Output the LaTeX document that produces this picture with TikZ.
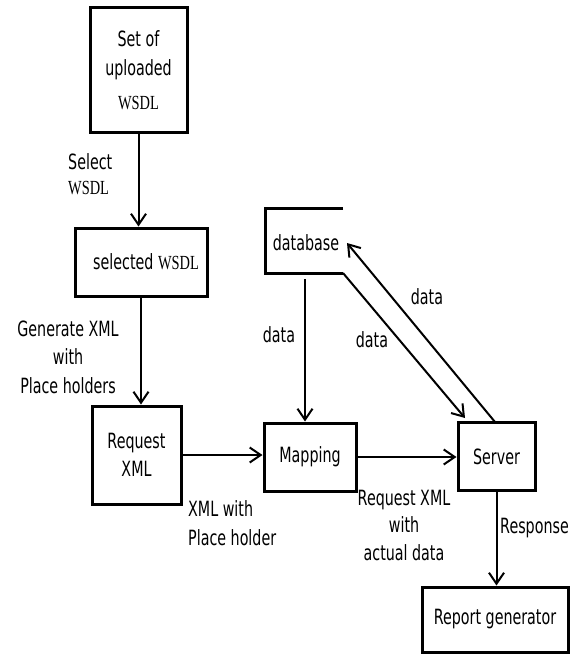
\documentclass[tikz,border=0pt]{standalone}
\usepackage{fontspec}
\setmainfont{DejaVu Sans}[FakeStretch=0.68]
\newfontfamily\wsdlfont{Liberation Serif}[FakeStretch=0.72]
\newcommand\lblfont{\fontsize{21}{28.5}\selectfont}
\newcommand\wsdltext{{\wsdlfont\fontsize{20}{28.5}\selectfont WSDL}}
\usetikzlibrary{arrows.meta}
\begin{document}
\begin{tikzpicture}[x=1pt,y=-1pt,
  box/.style={draw, line width=3pt, inner sep=0pt, align=center, font=\lblfont},
  lbl/.style={inner sep=0pt, font=\lblfont},
  arr/.style={line width=2pt, -{Straight Barb[length=11pt,width=15pt]}},
]
\path[use as bounding box] (0,0) rectangle (571,655);

% boxes
\node[box, minimum width=97pt, minimum height=125pt] (up) at (138.5,70.5) {Set of\\uploaded\\[6pt]\wsdltext};
\node[box, minimum width=132pt, minimum height=68pt] (sel) at (141,262) {\hspace*{10pt}selected\ \wsdltext};
\node[box, minimum width=89pt, minimum height=98pt] (req) at (136.5,455) {Request\\XML};
\node[box, minimum width=92pt, minimum height=68pt] (map) at (310,457) {Mapping};
\node[box, minimum width=77pt, minimum height=68pt] (srv) at (496.5,456.5) {Server};
\node[box, minimum width=146pt, minimum height=65pt] (rep) at (495,619.5) {Report generator};

% database (open store)
\node[lbl] (db) at (306,243) {database};
\coordinate (dbtr) at (343,208);
\coordinate (dbtl) at (265,208);
\coordinate (dbbl) at (265,273);
\coordinate (dbbr) at (343,273);
\draw[line width=3pt] (dbtr) -- (dbtl) -- (dbbl) -- (dbbr);

% connectors
\draw[arr] (up.south) -- (up.south |- sel.north);
\draw[arr] (sel.south) -- (sel.south |- req.north);
\draw[arr] (req.east) -- (req.east -| map.west);
\draw[arr] (map.east) -- (map.east -| srv.west);
\draw[arr] (srv.south) -- (srv.south |- rep.north);
\coordinate (dbout) at (305,279);
\draw[arr] (dbout) -- (dbout |- map.north);
\coordinate (srvin) at (465,418);
\draw[arr] (dbbr) -- (srvin);
\coordinate (srvtop) at (495,422);
\coordinate (dbin) at (347,243);
\draw[arr] (srvtop) -- (dbin);

% labels
\node[lbl, anchor=west, align=left, font=\fontsize{21}{25}\selectfont] (lsel) at (68,174) {Select\\\wsdltext};
\node[lbl, align=center] (lgen) at (68,357) {Generate XML\\with\\Place holders};
\node[lbl, anchor=west, align=left] (lxml) at (188,523) {XML with\\Place holder};
\node[lbl, align=center, font=\fontsize{21}{27.5}\selectfont] (lreq) at (404,525) {Request XML\\with\\actual data};
\node[lbl, anchor=west] (lresp) at (500,528) {Response};
\node[lbl] (ld1) at (279,335) {data};
\node[lbl] (ld2) at (372,340) {data};
\node[lbl] (ld3) at (427,297) {data};
\end{tikzpicture}
\end{document}
